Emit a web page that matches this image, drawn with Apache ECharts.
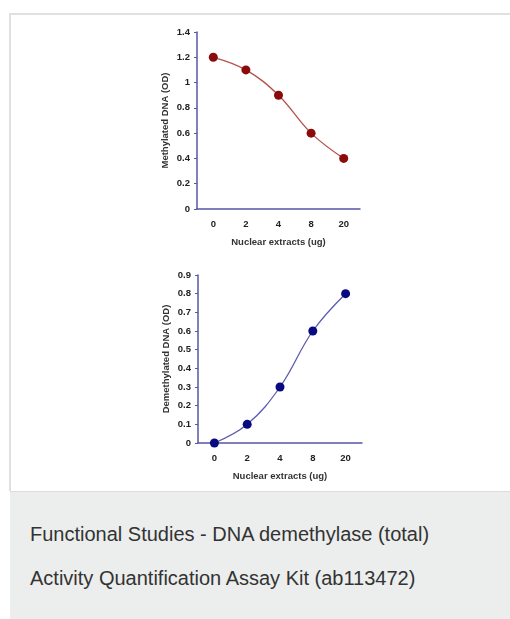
<!DOCTYPE html>
<html><head><meta charset="utf-8">
<script src="https://cdn.jsdelivr.net/npm/echarts@6/dist/echarts.min.js"></script>
<style>
html,body{margin:0;padding:0;width:510px;height:619px;background:#fff;overflow:hidden;}
#frame{position:absolute;left:9px;top:13px;width:510px;height:478px;border-left:2px solid #e0e0e0;border-top:2px solid #e0e0e0;box-sizing:border-box;}
#caption{position:absolute;left:10px;top:491px;width:500px;height:128px;background:#eceeed;border-top:1px solid #dcdcdc;box-sizing:border-box;font-family:"Liberation Sans",Arial,sans-serif;font-size:20px;line-height:23px;color:#333;}
#caption p{margin:0;position:absolute;left:20px;white-space:nowrap;}
#chart{position:absolute;left:0;top:0;width:510px;height:491px;}
</style></head>
<body>
<div id="frame"></div>
<div id="chart"></div>
<div id="caption"><p style="top:31px">Functional Studies - DNA demethylase (total)</p><p style="top:75px">Activity Quantification Assay Kit (ab113472)</p></div>
<script>
var categories = ['0','2','4','8','20'];
var methylated = [1.2, 1.1, 0.9, 0.6, 0.4];
var demethylated = [0, 0.1, 0.3, 0.6, 0.8];
var xTitle = 'Nuclear extracts (ug)';
var yTitle1 = 'Methylated DNA (OD)';
var yTitle2 = 'Demethylated DNA (OD)';

var axisColor = '#5656a6';
var font = '"Liberation Sans", Arial, sans-serif';
function xAxis(gi){
  return {type:'category', gridIndex:gi, data:categories,
    name:xTitle, nameLocation:'middle', nameGap:28,
    nameTextStyle:{fontFamily:font,fontWeight:'bold',fontSize:9.5,color:'#333'},
    axisLine:{lineStyle:{color:axisColor,width:1.5}},
    axisTick:{length:3,lineStyle:{color:axisColor}},
    axisLabel:{fontFamily:font,fontWeight:'bold',fontSize:9.5,color:'#222',margin:10}};
}
function yAxis(gi,max,interval,title){
  return {type:'value', gridIndex:gi, min:0, max:max, interval:interval,
    name:title, nameLocation:'middle', nameGap:27, nameRotate:90,
    nameTextStyle:{fontFamily:font,fontWeight:'bold',fontSize:9.5,color:'#333'},
    splitLine:{show:false},
    axisLine:{show:true,lineStyle:{color:axisColor,width:1.5}},
    axisTick:{show:true,length:3,lineStyle:{color:axisColor}},
    axisLabel:{fontFamily:font,fontWeight:'bold',fontSize:9.5,color:'#222',margin:7}};
}
var chart = echarts.init(document.getElementById('chart'),null,{renderer:'canvas'});
chart.setOption({
  animation:false,
  grid:[{left:197,top:32,width:163,height:177},{left:198,top:275,width:164,height:168}],
  xAxis:[xAxis(0),xAxis(1)],
  yAxis:[yAxis(0,1.4,0.2,yTitle1),yAxis(1,0.9,0.1,yTitle2)],
  series:[
    {type:'line',xAxisIndex:0,yAxisIndex:0,data:methylated,smooth:0.4,symbol:'circle',symbolSize:9,
      lineStyle:{color:'#b5524c',width:1.3},itemStyle:{color:'#8b0a0a'}},
    {type:'line',xAxisIndex:1,yAxisIndex:1,data:demethylated,smooth:0.4,symbol:'circle',symbolSize:9,
      lineStyle:{color:'#5c5cae',width:1.3},itemStyle:{color:'#0a0a80'}}
  ]
});
</script>
</body></html>
